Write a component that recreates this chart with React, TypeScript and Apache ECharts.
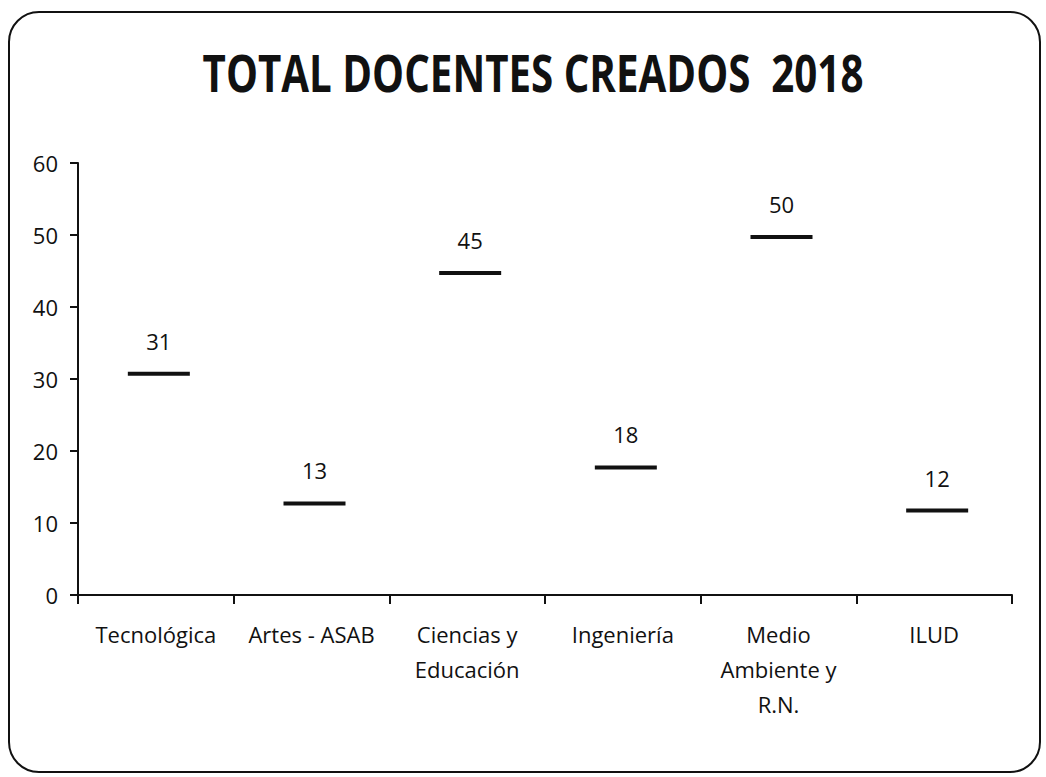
import React, { useEffect, useRef } from "react";
import * as echarts from "echarts";

const categories = [
  "Tecnológica",
  "Artes - ASAB",
  "Ciencias y\nEducación",
  "Ingeniería",
  "Medio\nAmbiente y\nR.N.",
  "ILUD",
];
const values = [31, 13, 45, 18, 50, 12];
const yTicks = [0, 10, 20, 30, 40, 50, 60];
const title = "TOTAL DOCENTES CREADOS  2018";

export default function App() {
  const ref = useRef<HTMLDivElement>(null);
  useEffect(() => {
    if (!ref.current) return;
    const chart = echarts.init(ref.current, null, { renderer: "svg" });
    const font = "'Open Sans', 'Noto Sans', sans-serif";
    chart.setOption({
      animation: false,
      backgroundColor: "#ffffff",
      graphic: [
        {
          type: "rect",
          shape: { x: 9, y: 12, width: 1031, height: 760, r: 30 },
          style: { fill: "none", stroke: "#111", lineWidth: 2 },
          silent: true,
        },
        {
          type: "text",
          x: 533,
          y: 72,
          scaleX: 0.775,
          style: {
            text: title,
            fontFamily: "'Open Sans', sans-serif",
            fontWeight: "bold",
            fontSize: 52,
            fill: "#111",
            align: "center",
            verticalAlign: "middle",
          },
          silent: true,
        },
      ],
      grid: { left: 78, right: 34, top: 163, bottom: 182, containLabel: false },
      xAxis: {
        type: "category",
        data: categories,
        axisLine: { show: true, lineStyle: { color: "#111", width: 2 } },
        axisTick: { show: true, length: 9, lineStyle: { color: "#111", width: 2 } },
        axisLabel: {
          interval: 0,
          margin: 21,
          fontFamily: font,
          fontSize: 22,
          lineHeight: 35,
          color: "#111",
        },
        splitLine: { show: false },
      },
      yAxis: {
        type: "value",
        min: yTicks[0],
        max: yTicks[yTicks.length - 1],
        interval: 10,
        axisLine: { show: true, lineStyle: { color: "#111", width: 2 } },
        axisTick: { show: true, length: 8, lineStyle: { color: "#111", width: 2 } },
        axisLabel: {
          margin: 20,
          fontFamily: font,
          fontSize: 22,
          color: "#111",
        },
        splitLine: { show: false },
      },
      series: [
        {
          type: "scatter",
          data: values,
          symbol: "rect",
          symbolSize: [62, 4],
          symbolOffset: [3, 2],
          itemStyle: { color: "#111", opacity: 1 },
          label: {
            show: true,
            position: "top",
            distance: 20,
            fontFamily: font,
            fontSize: 22,
            color: "#111",
            opacity: 1,
          },
        },
      ],
    });
    return () => chart.dispose();
  }, []);
  return (
    <div
      ref={ref}
      style={{ position: "absolute", left: 0, top: 0, width: 1046, height: 777 }}
    />
  );
}
